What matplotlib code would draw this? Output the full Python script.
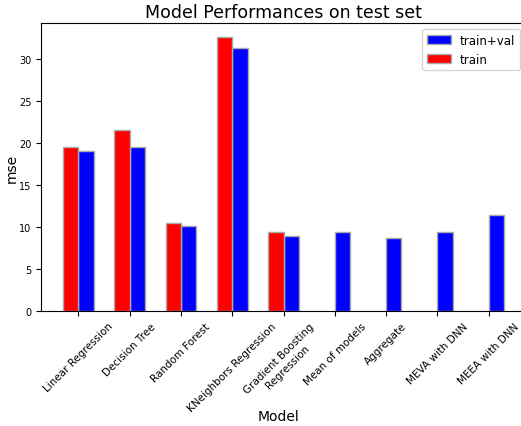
import numpy as np
import matplotlib
matplotlib.use("Agg")
import matplotlib.pyplot as plt

models = ['Linear Regression', 'Decision Tree', 'Random Forest',
          'KNeighbors Regression', 'Gradient Boosting\nRegression',
          'Mean of models', 'Aggregate', 'MEVA with DNN', 'MEEA with DNN']
train_mse = [19.5, 21.6, 10.5, 32.7, 9.4]
trainval_mse = [19.1, 19.55, 10.15, 31.4, 8.9, 9.45, 8.7, 9.45, 11.4]

fig = plt.figure(figsize=(5.21, 4.27), dpi=100)
ax = fig.add_axes([41 / 521, (427 - 312) / 427, 485 / 521, 288 / 427])

width = 0.3
x_train = np.arange(len(train_mse))
x_all = np.arange(len(models))

ax.bar(x_all + width / 2, trainval_mse, width, color='blue',
       edgecolor='darkgrey', label='train+val')
ax.bar(x_train - width / 2, train_mse, width, color='red',
       edgecolor='darkgrey', label='train')

ax.set_xticks(x_all)
ax.set_xticklabels(models, rotation=45, fontsize=7.5)
ax.tick_params(axis='y', labelsize=7)
ax.set_xlabel('Model', fontsize=10)
ax.set_ylabel('mse', fontsize=10)
ax.xaxis.set_label_coords(0.49, -0.342)
ax.yaxis.set_label_coords(-0.045, 0.5)
ax.set_title('Model Performances on test set', fontsize=12.5, pad=4)
ax.legend(loc='upper right', bbox_to_anchor=(1.0, 1.0), fontsize=8.5)

plt.savefig('out.png', dpi=100)
